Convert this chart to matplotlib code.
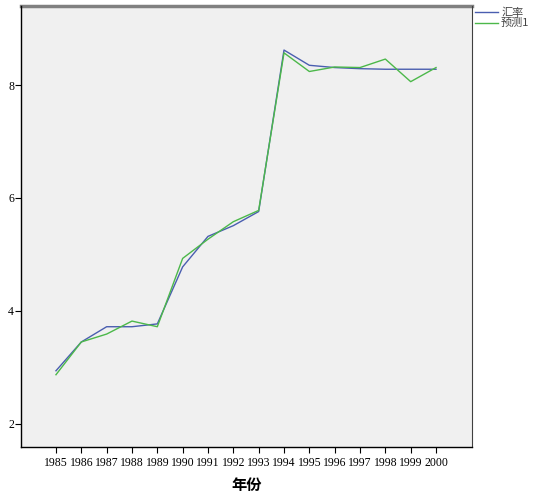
import matplotlib
matplotlib.use("Agg")
import matplotlib.pyplot as plt

# data
years = list(range(1985, 2001))
rate = [2.94, 3.45, 3.72, 3.72, 3.77, 4.78, 5.32, 5.51, 5.76, 8.62, 8.35, 8.31, 8.29, 8.28, 8.28, 8.28]
pred1 = [2.87, 3.45, 3.59, 3.82, 3.72, 4.93, 5.27, 5.58, 5.78, 8.57, 8.24, 8.32, 8.31, 8.46, 8.06, 8.31]
series_names = ["汇率", "预测1"]

plt.rcParams['font.family'] = ['Liberation Serif', 'Noto Sans CJK SC']

fig = plt.figure(figsize=(5.38, 5.0), dpi=100)
ax = fig.add_axes([21/538, 1 - 447/500, (472-21)/538, (447-6)/500])
ax.set_facecolor('#f0f0f0')

l1, = ax.plot(years, rate, color='#4a5eb0', lw=1.0)
l2, = ax.plot(years, pred1, color='#4cb84a', lw=1.0)

ax.set_xlim(1983.62, 2001.42)
ax.set_ylim(1.59, 9.40)
ax.set_xticks(years)
ax.set_xticklabels([str(y) for y in years], fontsize=8.5)
ax.set_yticks([2, 4, 6, 8])
ax.tick_params(axis='y', labelsize=8.5, length=4, width=0.8, pad=1)
ax.tick_params(axis='x', length=4, width=0.8, pad=3)

for s in ['top', 'right']:
    ax.spines[s].set_visible(False)
ax.spines['left'].set_linewidth(1.0)
ax.spines['bottom'].set_linewidth(1.0)
# gray top line of the frame
ax.axhline(9.40, color='#808080', lw=2.5, clip_on=False)
ax.axvline(2001.42, color='#404040', lw=0.8, clip_on=False)

ax.set_xlabel("年份", fontsize=11, fontweight='bold', family=['Noto Sans CJK SC'], labelpad=6)

leg = fig.legend([l1, l2], series_names, loc='upper left', bbox_to_anchor=(471/538, 1 - 3/500),
                 frameon=False, handlelength=2.0, handletextpad=0.3,
                 labelspacing=0.05, borderaxespad=0,
                 prop={'family': ['Noto Sans CJK SC', 'Liberation Serif'], 'size': 8})
for t in leg.get_texts():
    t.set_color('#444444')

fig.savefig("out.png", dpi=100)
